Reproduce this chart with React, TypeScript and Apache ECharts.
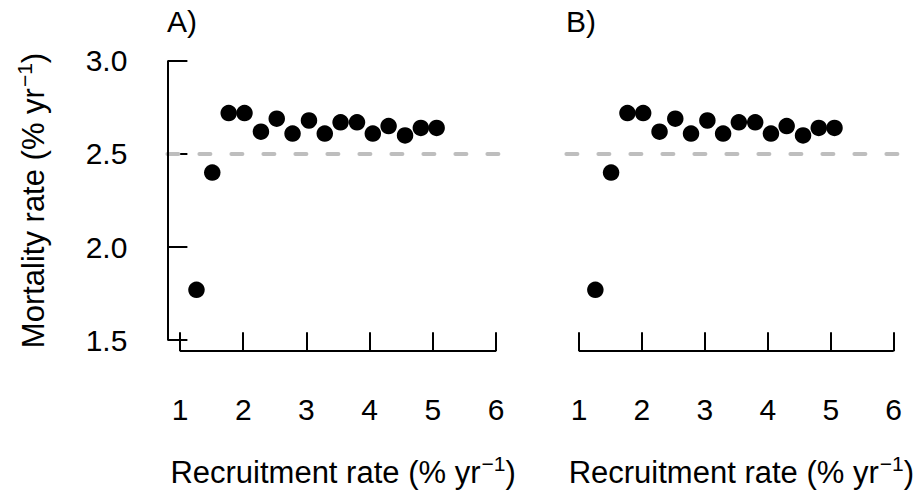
import React, { useEffect, useRef } from "react";
import * as echarts from "echarts";

// Data (same values in both panels)
const recruitA = [1.26, 1.51, 1.77, 2.02, 2.28, 2.53, 2.78, 3.04, 3.29, 3.54, 3.8, 4.05, 4.3, 4.56, 4.81, 5.06];
const mortalityA = [1.77, 2.4, 2.72, 2.72, 2.62, 2.69, 2.61, 2.68, 2.61, 2.67, 2.67, 2.61, 2.65, 2.6, 2.64, 2.64];
const recruitB = [1.26, 1.51, 1.77, 2.02, 2.28, 2.53, 2.78, 3.04, 3.29, 3.54, 3.8, 4.05, 4.3, 4.56, 4.81, 5.06];
const mortalityB = [1.77, 2.4, 2.72, 2.72, 2.62, 2.69, 2.61, 2.68, 2.61, 2.67, 2.67, 2.61, 2.65, 2.6, 2.64, 2.64];

const xTicks = [1, 2, 3, 4, 5, 6];
const yTicks = [1.5, 2.0, 2.5, 3.0];
const xRange = [0.8, 6.2];
const yRange = [1.44, 3.06];
const referenceLine = 2.5;
const panelLabels = ["A)", "B)"];

const FONT = "'Liberation Sans', Arial, Helvetica, sans-serif";

export default function App() {
  const ref = useRef<HTMLDivElement>(null);
  useEffect(() => {
    document.body.style.margin = "0";
    if (!ref.current) return;
    const chart = echarts.init(ref.current, undefined, { renderer: "svg" });

    const gridTop = 49.8;
    const gridH = 301.4;
    const gridW = 341.3;
    const lefts = [167.4, 566.4];

    const rich = {
      n: { fontSize: 31, fontFamily: FONT, color: "#000", padding: [4, 0, 0, 0] },
      s: { fontSize: 21, fontFamily: FONT, color: "#000", verticalAlign: "top" as const, padding: [0, 0, 0, 1] },
    };
    const xName = "{n|Recruitment rate (% yr}{s|\u22121}{n|)}";
    const yName = "{n|Mortality rate (% yr}{s|\u22121}{n|)}";

    const tickStyle = { color: "#000", width: 2 };
    const axisLineStyle = { color: "#000", width: 2, type: "solid" as const };

    const xAxes = [0, 1].map((i) => ({
      type: "value" as const,
      gridIndex: i,
      min: xRange[0],
      max: xRange[1],
      axisLine: { show: false },
      splitLine: { show: false },
      axisTick: { show: true, inside: true, length: 19, lineStyle: tickStyle, customValues: xTicks },
      axisLabel: {
        show: true,
        customValues: xTicks,
        margin: 43,
        fontSize: 30,
        fontFamily: FONT,
        color: "#000",
      },
      name: xName,
      nameLocation: "middle" as const,
      nameGap: 102,
      nameTextStyle: { rich, padding: [0, 0, 0, 10] },
    }));

    const yAxes = [
      {
        type: "value" as const,
        gridIndex: 0,
        min: yRange[0],
        max: yRange[1],
        axisLine: { show: false },
        splitLine: { show: false },
        axisTick: { show: true, inside: true, length: 20, lineStyle: tickStyle, customValues: yTicks },
        axisLabel: {
          show: true,
          customValues: yTicks,
          margin: 40,
          fontSize: 30,
          fontFamily: FONT,
          color: "#000",
          padding: [6, 0, 0, 0],
          formatter: (v: number) => v.toFixed(1),
        },
        name: yName,
        nameLocation: "middle" as const,
        nameGap: 118,
        nameRotate: 90,
        nameTextStyle: { rich },
      },
      {
        type: "value" as const,
        gridIndex: 1,
        min: yRange[0],
        max: yRange[1],
        show: false,
        splitLine: { show: false },
      },
    ];

    const panels = [
      { xs: recruitA, ys: mortalityA, yAxisLine: true },
      { xs: recruitB, ys: mortalityB, yAxisLine: false },
    ];

    const series = panels.map((p, i) => {
      const lines: any[] = [
        {
          yAxis: referenceLine,
          lineStyle: { color: "#bebebe", width: 4, type: [11, 21], cap: "round", opacity: 1 },
        },
        [
          { coord: [xTicks[0], yRange[0]], lineStyle: axisLineStyle },
          { coord: [xTicks[xTicks.length - 1], yRange[0]] },
        ],
      ];
      if (p.yAxisLine) {
        lines.push([
          { coord: [xRange[0], yTicks[0]], lineStyle: axisLineStyle },
          { coord: [xRange[0], yTicks[yTicks.length - 1]] },
        ]);
      }
      return {
        type: "scatter" as const,
        xAxisIndex: i,
        yAxisIndex: i,
        clip: false,
        symbol: "circle",
        symbolSize: 16.5,
        itemStyle: { color: "#000", opacity: 1 },
        data: p.xs.map((x, k) => [x, p.ys[k]]),
        silent: true,
        markLine: {
          silent: true,
          symbol: ["none", "none"],
          label: { show: false },
          emphasis: { disabled: true },
          lineStyle: { opacity: 1 },
          data: lines,
        },
      };
    });

    chart.setOption({
      animation: false,
      backgroundColor: "#fff",
      grid: lefts.map((l) => ({ left: l, top: gridTop, width: gridW, height: gridH })),
      xAxis: xAxes,
      yAxis: yAxes,
      series,
      graphic: panelLabels.map((t, i) => ({
        type: "text",
        left: lefts[i] - 0.5,
        top: 6,
        style: { text: t, font: `30px ${FONT}`, fill: "#000" },
      })),
    });

    return () => chart.dispose();
  }, []);

  return <div ref={ref} style={{ width: 917, height: 497 }} />;
}
